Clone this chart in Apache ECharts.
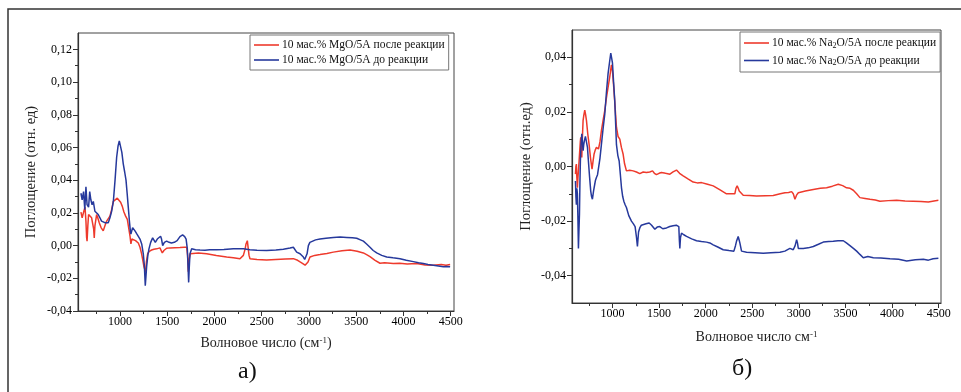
<!DOCTYPE html>
<html>
<head>
<meta charset="utf-8">
<script src="https://cdn.jsdelivr.net/npm/echarts@6/dist/echarts.min.js"></script>
<style>
  html, body { margin: 0; background: #fff; }
  #chart { width: 961px; height: 392px; }
</style>
</head>
<body>
<div id="chart"></div>
<script>
// --- data ---
// а) MgO/5A
const mgoBeforeX = [587,600,615,628,640,652,668,680,692,705,718,735,750,770,788,805,823,840,859,876,894,912,930,948,965,980,993,1007,1020,1035,1050,1064,1076,1088,1100,1110,1116,1125,1134,1145,1159,1180,1200,1212,1230,1247,1258,1268,1275,1282,1295,1307,1325,1346,1360,1374,1385,1395,1412,1430,1440,1452,1470,1494,1520,1545,1575,1605,1635,1663,1685,1700,1713,1722,1727,1733,1741,1759,1800,1847,1900,1950,2023,2100,2200,2306,2376,2450,2552,2650,2729,2800,2835,2850,2870,2890,2906,2925,2941,2955,2969,2980,2994,3010,3029,3070,3117,3180,3258,3330,3400,3460,3505,3545,3576,3610,3646,3680,3717,3770,3823,3890,3964,4030,4105,4160,4211,4260,4317,4370,4423,4460,4494];
const mgoBeforeY = [0.032,0.028,0.033,0.022,0.036,0.025,0.0235,0.033,0.028,0.025,0.027,0.021,0.020,0.019,0.017,0.015,0.015,0.014,0.015,0.014,0.017,0.021,0.027,0.040,0.054,0.061,0.064,0.063,0.057,0.050,0.045,0.040,0.032,0.0235,0.015,0.009,0.007,0.009,0.011,0.011,0.009,0.007,0.006,0.004,0.001,-0.005,-0.012,-0.0245,-0.019,-0.013,-0.006,-0.002,0.002,0.0047,0.004,0.002,0.003,0.004,0.005,0.0057,0.004,0.0,0.002,0.0027,0.002,0.0016,0.002,0.003,0.0055,0.0065,0.0055,0.004,-0.002,-0.015,-0.0225,-0.014,-0.005,-0.002,-0.0025,-0.0027,-0.0028,-0.0026,-0.0025,-0.0024,-0.002,-0.002,-0.0025,-0.0028,-0.003,-0.0027,-0.0022,-0.0015,-0.001,-0.002,-0.004,-0.0045,-0.005,-0.006,-0.007,-0.0085,-0.009,-0.005,0.0,0.002,0.0027,0.0035,0.004,0.0045,0.005,0.0052,0.005,0.0048,0.0045,0.0035,0.0027,0.001,-0.001,-0.003,-0.0045,-0.006,-0.007,-0.0075,-0.008,-0.009,-0.0098,-0.0105,-0.011,-0.0115,-0.012,-0.0125,-0.013,-0.0128,-0.013];
const mgoAfterX = [587,600,612,622,630,640,647,652,660,668,685,700,715,722,728,735,753,765,781,800,823,840,859,876,894,912,930,950,972,990,1007,1025,1042,1060,1078,1092,1106,1116,1125,1141,1165,1194,1212,1229,1245,1254,1263,1271,1280,1293,1310,1335,1360,1388,1405,1423,1435,1448,1465,1494,1530,1580,1635,1680,1706,1716,1723,1734,1745,1759,1830,1917,2020,2129,2200,2270,2306,2325,2334,2348,2358,2366,2376,2450,2552,2650,2750,2835,2880,2906,2935,2959,2976,2990,3011,3060,3117,3190,3258,3350,3435,3510,3576,3610,3646,3700,3752,3800,3893,3960,4040,4140,4230,4317,4400,4450,4494];
const mgoAfterY = [0.0205,0.017,0.017,0.022,0.0235,0.015,0.005,0.0027,0.012,0.019,0.018,0.017,0.016,0.010,0.0047,0.012,0.019,0.017,0.014,0.011,0.009,0.012,0.015,0.016,0.018,0.022,0.027,0.028,0.029,0.028,0.0265,0.024,0.0205,0.018,0.016,0.011,0.006,0.001,0.004,0.005,0.003,0.0016,-0.001,-0.005,-0.010,-0.013,-0.012,-0.016,-0.010,-0.005,-0.0035,-0.0027,-0.0022,-0.002,-0.0025,-0.0014,-0.0025,-0.0045,-0.003,-0.0016,-0.0014,-0.0013,-0.0012,-0.001,-0.001,-0.006,-0.016,-0.008,-0.005,-0.004,-0.0045,-0.005,-0.006,-0.007,-0.0075,-0.008,-0.006,-0.002,0.001,0.003,-0.002,-0.006,-0.008,-0.0085,-0.0088,-0.0085,-0.0082,-0.008,-0.009,-0.010,-0.011,-0.012,-0.013,-0.010,-0.007,-0.006,-0.0055,-0.0048,-0.004,-0.0032,-0.0027,-0.0035,-0.0045,-0.0055,-0.0067,-0.009,-0.0108,-0.0105,-0.011,-0.0108,-0.0112,-0.011,-0.0118,-0.012,-0.0115,-0.012,-0.0116];

// б) Na2O/5A
const naBeforeX = [603,608,613,618,624,630,635,640,646,651,656,663,671,678,685,692,699,710,721,732,742,755,767,776,785,797,810,818,828,840,850,866,882,900,918,935,953,968,982,990,1000,1012,1025,1035,1043,1058,1072,1085,1097,1110,1122,1136,1150,1175,1204,1225,1243,1258,1268,1280,1293,1310,1329,1360,1394,1420,1455,1480,1508,1540,1580,1615,1651,1685,1712,1718,1723,1730,1741,1765,1795,1850,1902,1955,2009,2045,2081,2130,2188,2250,2303,2320,2331,2349,2360,2367,2385,2439,2530,2618,2700,2797,2850,2904,2920,2940,2960,2976,2985,2994,3047,3100,3155,3210,3262,3320,3369,3420,3477,3510,3548,3585,3620,3655,3691,3740,3799,3880,3978,4070,4157,4250,4336,4390,4440,4497];
const naBeforeY = [-0.0053,-0.011,-0.014,-0.008,-0.010,-0.020,-0.030,-0.024,-0.0176,-0.006,0.002,0.008,0.012,0.009,0.0058,0.008,0.0095,0.011,0.0113,0.007,0.002,-0.004,-0.009,-0.011,-0.012,-0.009,-0.0065,-0.005,-0.004,-0.003,-0.0028,0.003,0.0082,0.014,0.0193,0.027,0.034,0.038,0.0415,0.040,0.038,0.031,0.024,0.015,0.008,0.004,0.002,-0.003,-0.0078,-0.011,-0.0127,-0.014,-0.015,-0.018,-0.020,-0.021,-0.022,-0.026,-0.0293,-0.024,-0.0225,-0.0215,-0.0215,-0.021,-0.0207,-0.0215,-0.023,-0.0222,-0.022,-0.0228,-0.0225,-0.022,-0.0217,-0.0215,-0.022,-0.027,-0.030,-0.026,-0.0244,-0.025,-0.0256,-0.0265,-0.0272,-0.0275,-0.0277,-0.028,-0.0287,-0.0295,-0.0305,-0.0308,-0.031,-0.029,-0.0274,-0.0256,-0.027,-0.028,-0.031,-0.0314,-0.0316,-0.0318,-0.0316,-0.0314,-0.031,-0.030,-0.0298,-0.0305,-0.029,-0.0268,-0.028,-0.030,-0.030,-0.0298,-0.0293,-0.0285,-0.0277,-0.0275,-0.0274,-0.0272,-0.0272,-0.028,-0.029,-0.030,-0.031,-0.0322,-0.0334,-0.033,-0.0334,-0.0335,-0.0338,-0.034,-0.0346,-0.0342,-0.034,-0.0343,-0.0338,-0.0336];
const naAfterX = [603,608,613,618,624,630,635,642,649,655,660,666,671,678,685,694,703,712,721,735,749,765,781,792,803,815,828,840,850,866,882,900,918,935,953,972,989,1000,1014,1028,1043,1060,1079,1096,1114,1130,1150,1185,1222,1258,1293,1330,1365,1400,1430,1450,1472,1500,1526,1570,1616,1650,1687,1720,1759,1810,1866,1910,1956,2020,2081,2150,2224,2270,2313,2325,2338,2350,2360,2403,2470,2546,2640,2725,2800,2851,2890,2922,2940,2958,2975,2994,3070,3155,3230,3298,3360,3423,3470,3512,3550,3584,3620,3655,3710,3763,3820,3870,3960,4049,4140,4228,4310,4389,4450,4497];
const naAfterY = [-0.0028,0.0,0.0009,-0.004,-0.0078,-0.004,-0.0016,0.002,0.0058,0.009,0.0107,0.007,0.0033,0.011,0.0169,0.019,0.0206,0.019,0.0169,0.012,0.0082,0.003,-0.001,0.002,0.0046,0.006,0.007,0.0065,0.0064,0.009,0.0132,0.017,0.0206,0.025,0.029,0.033,0.0372,0.035,0.029,0.022,0.0144,0.011,0.010,0.007,0.0046,0.001,-0.0016,-0.0014,-0.0016,-0.002,-0.0026,-0.002,-0.0022,-0.002,-0.0016,-0.0025,-0.003,-0.0025,-0.0022,-0.0025,-0.0028,-0.002,-0.0013,-0.0025,-0.0034,-0.0045,-0.0057,-0.006,-0.0059,-0.0065,-0.0071,-0.0085,-0.010,-0.010,-0.010,-0.008,-0.0071,-0.008,-0.009,-0.0105,-0.0106,-0.0108,-0.0107,-0.0106,-0.010,-0.0096,-0.0095,-0.0092,-0.010,-0.012,-0.0105,-0.0096,-0.009,-0.0084,-0.008,-0.0078,-0.0072,-0.0065,-0.007,-0.0078,-0.008,-0.0087,-0.010,-0.0114,-0.0117,-0.012,-0.0123,-0.0127,-0.0125,-0.0124,-0.0126,-0.0127,-0.0128,-0.013,-0.0126,-0.0124];

// tick values
const xMajor = [1000, 1500, 2000, 2500, 3000, 3500, 4000, 4500];
const xMinor = [750, 1250, 1750, 2250, 2750, 3250, 3750, 4250];
const yMajorA = [-0.04, -0.02, 0, 0.02, 0.04, 0.06, 0.08, 0.10, 0.12];
const yMinorA = [-0.03, -0.01, 0.01, 0.03, 0.05, 0.07, 0.09, 0.11];
const yMajorB = [-0.04, -0.02, 0, 0.02, 0.04];
const yMinorB = [-0.03, -0.01, 0.01, 0.03];

const names = [
  '10 мас.% MgO/5A после реакции',
  '10 мас.% MgO/5A до реакции',
  '10 мас.% Na2O/5A после реакции',
  '10 мас.% Na2O/5A до реакции'
];

const serif = '"Liberation Serif", "DejaVu Serif", serif';
const red = '#ee3a2c';
const blue = '#26399c';
const axisColor = '#333';

const pairs = (xs, ys) => xs.map((x, i) => [x, ys[i]]);
const fmt = v => v.toFixed(2).replace('.', ',');

function majorX(grid, min, max, name, gap) {
  return {
    type: 'value', gridIndex: grid, min: min, max: max,
    name: name, nameLocation: 'middle', nameGap: gap,
    nameTextStyle: {
      fontFamily: serif, fontSize: 14, color: '#222',
      rich: { sup: { fontFamily: serif, fontSize: 9, color: '#222', verticalAlign: 'top', padding: [0, 0, 6, 0] } }
    },
    axisLine: { show: true, onZero: false, lineStyle: { color: axisColor, width: 1.2 } },
    axisTick: { show: true, length: 5, customValues: xMajor, lineStyle: { color: axisColor } },
    axisLabel: { customValues: xMajor, formatter: v => String(v), fontFamily: serif, fontSize: 12, color: '#000', margin: 5 },
    splitLine: { show: false }
  };
}
function minorX(grid, min, max) {
  return {
    type: 'value', gridIndex: grid, min: min, max: max, position: 'bottom',
    axisLine: { show: false, onZero: false },
    axisTick: { show: true, length: 3, customValues: xMinor, lineStyle: { color: axisColor } },
    axisLabel: { show: false },
    splitLine: { show: false }
  };
}
function majorY(grid, min, max, ticks, name, gap) {
  return {
    type: 'value', gridIndex: grid, min: min, max: max,
    name: name, nameLocation: 'middle', nameGap: gap, nameRotate: 90,
    nameTextStyle: { fontFamily: serif, fontSize: 14.5, color: '#222' },
    axisLine: { show: true, onZero: false, lineStyle: { color: axisColor, width: 1.2 } },
    axisTick: { show: true, length: 5, customValues: ticks, lineStyle: { color: axisColor } },
    axisLabel: { customValues: ticks, formatter: fmt, fontFamily: serif, fontSize: 12, color: '#000', margin: 6 },
    splitLine: { show: false }
  };
}
function minorY(grid, min, max, ticks) {
  return {
    type: 'value', gridIndex: grid, min: min, max: max, position: 'left',
    axisLine: { show: false, onZero: false },
    axisTick: { show: true, length: 3, customValues: ticks, lineStyle: { color: axisColor } },
    axisLabel: { show: false },
    splitLine: { show: false }
  };
}
function line(name, data, color, axis) {
  return {
    name: name, type: 'line', data: data, xAxisIndex: axis, yAxisIndex: axis,
    showSymbol: false, symbol: 'none', animation: false,
    lineStyle: { color: color, width: 1.5 }, itemStyle: { color: color }
  };
}

const legendStyle = {
  orient: 'vertical', itemWidth: 25, itemHeight: 12, itemGap: 3,
  icon: 'path://M0,0 H25 V1.6 H0 Z', symbolKeepAspect: true,
  backgroundColor: '#fff', borderColor: '#777', borderWidth: 1, borderRadius: 0,
  padding: [4, 4, 4, 4],
  formatter: n => n.replace('Na2O', 'Na{sub|2}O'),
  textStyle: {
    fontFamily: serif, fontSize: 11.5, color: '#111', padding: [0, 0, 0, -2],
    rich: { sub: { fontFamily: serif, fontSize: 8, color: '#111', verticalAlign: 'bottom', padding: [5, 0, 0, 0] } }
  }
};

const chart = echarts.init(document.getElementById('chart'), null, { renderer: 'canvas' });
chart.setOption({
  backgroundColor: '#fff',
  animation: false,
  grid: [
    { left: 78, top: 33, width: 376, height: 278, show: true, borderColor: '#444', borderWidth: 1 },
    { left: 572, top: 30, width: 369, height: 273, show: true, borderColor: '#444', borderWidth: 1 }
  ],
  xAxis: [
    majorX(0, 556, 4535, 'Волновое число (см{sup|-1})', 25),
    minorX(0, 556, 4535),
    majorX(1, 566, 4525, 'Волновое число см{sup|-1}', 27),
    minorX(1, 566, 4525)
  ],
  yAxis: [
    majorY(0, -0.04, 0.13, yMajorA, 'Поглощение (отн. ед)', 39),
    minorY(0, -0.04, 0.13, yMinorA),
    majorY(1, -0.05, 0.05, yMajorB, 'Поглощение (отн.ед)', 38),
    minorY(1, -0.05, 0.05, yMinorB)
  ],
  legend: [
    Object.assign({}, legendStyle, { data: [names[0], names[1]], left: 250, top: 35 }),
    Object.assign({}, legendStyle, { data: [names[2], names[3]], left: 740, top: 32, itemGap: 5, padding: [5, 4, 5, 4] })
  ],
  series: [
    line(names[0], pairs(mgoAfterX, mgoAfterY), red, 0),
    line(names[1], pairs(mgoBeforeX, mgoBeforeY), blue, 0),
    line(names[2], pairs(naAfterX, naAfterY), red, 2),
    line(names[3], pairs(naBeforeX, naBeforeY), blue, 2)
  ],
  graphic: [
    { type: 'rect', silent: true, z: -1, shape: { x: 8, y: 9, width: 960, height: 400 },
      style: { fill: 'none', stroke: '#333', lineWidth: 1.5 } },
    { type: 'text', left: 238, top: 360, style: { text: 'а)', font: '24px "Liberation Serif", serif', fill: '#111' } },
    { type: 'text', left: 732, top: 357, style: { text: 'б)', font: '24px "Liberation Serif", serif', fill: '#111' } }
  ]
});
</script>
</body>
</html>
